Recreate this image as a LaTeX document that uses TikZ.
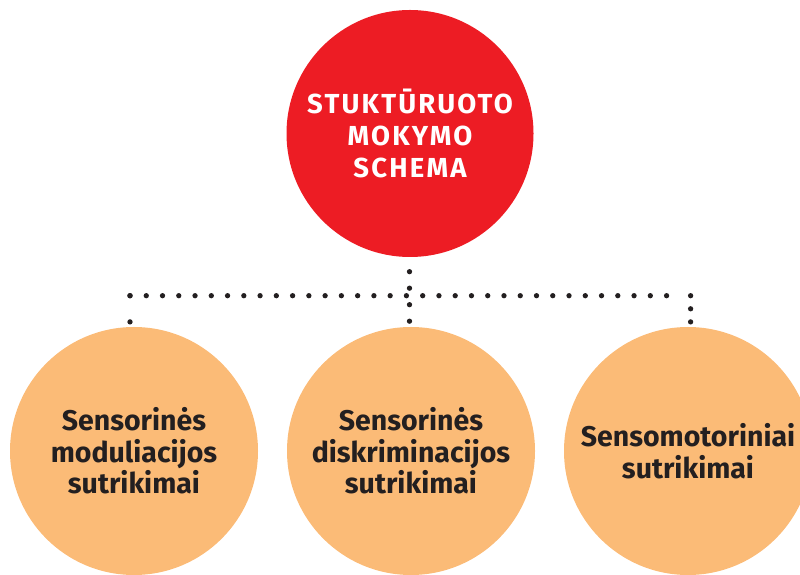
\documentclass[tikz,border=0pt]{standalone}
\usepackage{fontspec}
\setmainfont{Fira Sans}
\newfontfamily\headfont[LetterSpace=8]{Fira Sans}
\definecolor{redc}{HTML}{ED1C24}
\definecolor{orangec}{HTML}{FBBB77}
\definecolor{ink}{HTML}{231F20}
\begin{document}
\begin{tikzpicture}[x=1pt,y=1pt,
  redball/.style={circle, fill=redc, minimum size=247pt, inner sep=0pt, text=white, align=center, font=\headfont\fontsize{27.5}{32}\selectfont\bfseries},
  orangeball/.style={circle, fill=orangec, minimum size=248pt, inner sep=0pt, text=ink, align=center, font=\fontsize{28.5}{31.5}\selectfont\bfseries},
  dotline/.style={draw=ink, line width=5.3pt, line cap=round}]
\useasboundingbox (0,0) rectangle (800,575);
\clip (0,0) rectangle (800,575);
\node[redball] (top) at (410,441.5) {STUKTŪRUOTO\\MOKYMO\\SCHEMA};
\node[orangeball] (a) at (134,124) {Sensorinės\\moduliacijos\\sutrikimai};
\node[orangeball] (b) at (411,124) {Sensorinės\\diskriminacijos\\sutrikimai};
\node[orangeball] (c) at (688,124) {Sensomotoriniai\\sutrikimai};
\coordinate (mTop) at (409.5,303.3);
\coordinate (mBot) at (409.5,253.7);
\coordinate (hL) at (130,279.3);
\coordinate (hR) at (667,279.3);
\coordinate (lBot) at (130,253);
\coordinate (rTop) at (690.6,279.3);
\coordinate (rBot) at (690.6,253);
\draw[dotline, dash pattern=on 0pt off 16.5pt] (mTop) -- (mBot);
\draw[dotline, dash pattern=on 0pt off 16.26pt] (hL) -- (hR);
\draw[dotline, dash pattern=on 0pt off 26.2pt] (hL) -- (lBot);
\draw[dotline, dash pattern=on 0pt off 13.1pt] (rTop) -- (rBot);
\end{tikzpicture}
\end{document}
